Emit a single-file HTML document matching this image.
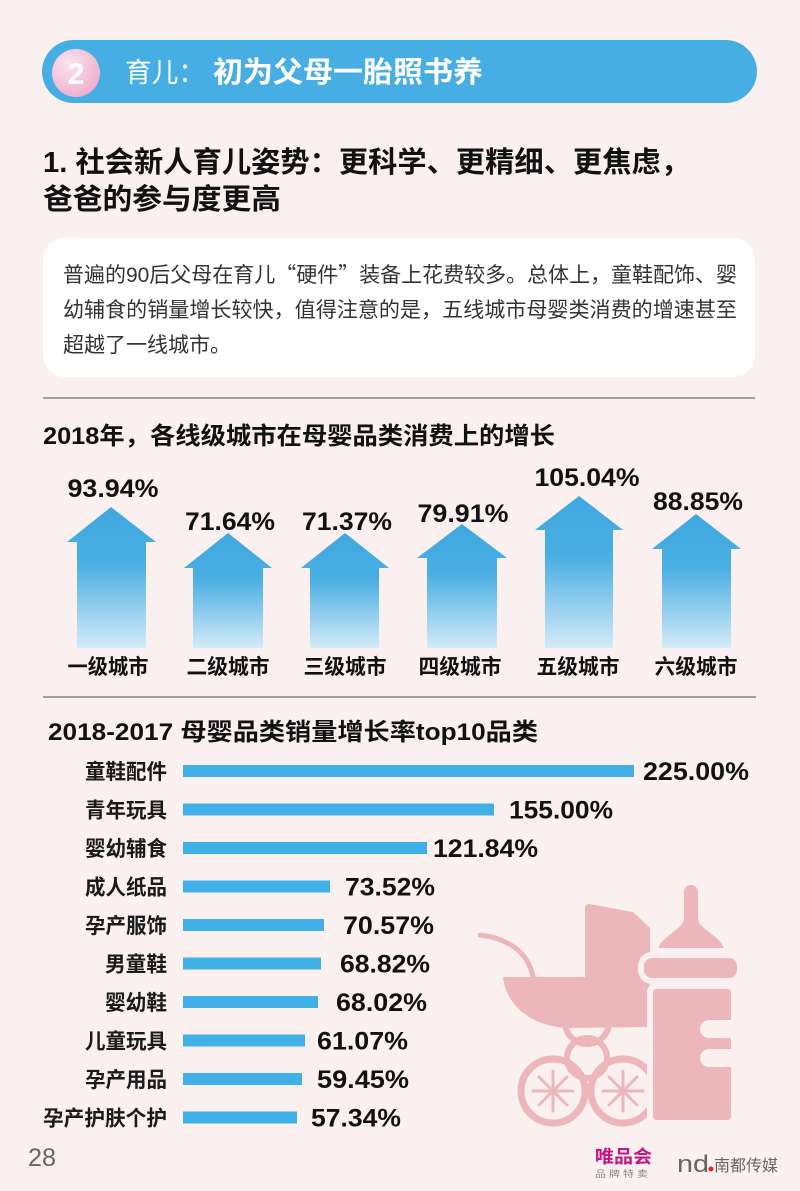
<!DOCTYPE html>
<html>
<head>
<meta charset="utf-8">
<style>
  html,body{margin:0;padding:0;background:#faf0ef;}
  svg{display:block;}
  text{font-family:"Liberation Sans","Noto Sans CJK SC",sans-serif;}
  .cjk{font-family:"Noto Sans CJK SC",sans-serif;}
</style>
</head>
<body>
<svg width="800" height="1191" viewBox="0 0 800 1191" xmlns="http://www.w3.org/2000/svg">
  <defs>
    <linearGradient id="ag" x1="0" y1="0" x2="0" y2="1">
      <stop offset="0" stop-color="#3fa8df"/>
      <stop offset="0.4" stop-color="#4aafe3"/>
      <stop offset="1" stop-color="#d3eaf7"/>
    </linearGradient>
    <radialGradient id="cg" cx="0.35" cy="0.3" r="0.75">
      <stop offset="0" stop-color="#fbe3ef"/>
      <stop offset="1" stop-color="#eeaecd"/>
    </radialGradient>
  </defs>
  <rect x="0" y="0" width="800" height="1191" fill="#faf0ef"/>

  <!-- Header pill -->
  <rect x="42" y="40" width="715" height="63" rx="31.5" fill="#46aee3"/>
  <circle cx="76" cy="73" r="24" fill="url(#cg)"/>
  <text x="76" y="84" font-size="30" font-weight="700" fill="#ffffff" text-anchor="middle">2</text>
  <text x="125" y="82" font-size="27" font-weight="400" fill="#ffffff" textLength="80" lengthAdjust="spacingAndGlyphs">育儿：</text>
  <text x="213" y="82" font-size="29" font-weight="700" fill="#ffffff" textLength="270" lengthAdjust="spacingAndGlyphs">初为父母一胎照书养</text>

  <!-- Heading -->
  <text x="43" y="172" font-size="29" font-weight="700" fill="#111" textLength="647" lengthAdjust="spacingAndGlyphs">1. 社会新人育儿姿势：更科学、更精细、更焦虑，</text>
  <text x="43" y="209" font-size="29" font-weight="700" fill="#111" textLength="238" lengthAdjust="spacingAndGlyphs">爸爸的参与度更高</text>

  <!-- Text box -->
  <rect x="43" y="238" width="712" height="139" rx="22" fill="#ffffff"/>
  <text x="63" y="282" font-size="21" fill="#333" textLength="674" lengthAdjust="spacingAndGlyphs">普遍的90后父母在育儿<tspan class="cjk">“</tspan>硬件<tspan class="cjk">”</tspan>装备上花费较多。总体上，童鞋配饰、婴</text>
  <text x="63" y="317" font-size="21" fill="#333" textLength="674" lengthAdjust="spacingAndGlyphs">幼辅食的销量增长较快，值得注意的是，五线城市母婴类消费的增速甚至</text>
  <text x="63" y="352" font-size="21" fill="#333" textLength="168" lengthAdjust="spacingAndGlyphs">超越了一线城市。</text>

  <!-- Divider 1 -->
  <line x1="43" y1="398" x2="755" y2="398" stroke="#a99c9b" stroke-width="2"/>

  <!-- Section title 1 -->
  <text x="43" y="444" font-size="24" font-weight="700" fill="#111" textLength="512" lengthAdjust="spacingAndGlyphs">2018年，各线级城市在母婴品类消费上的增长</text>

  <!-- Arrows -->
  <polygon points="111,507 156,542 146,542 146,648 77,648 77,542 67,542" fill="url(#ag)"/>
  <polygon points="228,533 272,568 263,568 263,648 193,648 193,568 184,568" fill="url(#ag)"/>
  <polygon points="345,533 389,568 379,568 379,648 310,648 310,568 301,568" fill="url(#ag)"/>
  <polygon points="462,524 507,558 497,558 497,648 427,648 427,558 417,558" fill="url(#ag)"/>
  <polygon points="579,496 623,530 613,530 613,648 545,648 545,530 535,530" fill="url(#ag)"/>
  <polygon points="696,514 741,549 731,549 731,648 662,648 662,549 652,549" fill="url(#ag)"/>

  <g font-size="25" font-weight="700" fill="#111" text-anchor="middle">
    <text x="113" y="497" textLength="91" lengthAdjust="spacingAndGlyphs">93.94%</text>
    <text x="230" y="530" textLength="90" lengthAdjust="spacingAndGlyphs">71.64%</text>
    <text x="347" y="530" textLength="90" lengthAdjust="spacingAndGlyphs">71.37%</text>
    <text x="463" y="522" textLength="91" lengthAdjust="spacingAndGlyphs">79.91%</text>
    <text x="587" y="486" textLength="105" lengthAdjust="spacingAndGlyphs">105.04%</text>
    <text x="698" y="510" textLength="90" lengthAdjust="spacingAndGlyphs">88.85%</text>
  </g>
  <g font-size="21" font-weight="700" fill="#111" text-anchor="middle">
    <text x="108" y="674" textLength="81" lengthAdjust="spacingAndGlyphs">一级城市</text>
    <text x="228" y="674" textLength="83" lengthAdjust="spacingAndGlyphs">二级城市</text>
    <text x="345" y="674" textLength="83" lengthAdjust="spacingAndGlyphs">三级城市</text>
    <text x="460" y="674" textLength="83" lengthAdjust="spacingAndGlyphs">四级城市</text>
    <text x="578" y="674" textLength="83" lengthAdjust="spacingAndGlyphs">五级城市</text>
    <text x="696" y="674" textLength="83" lengthAdjust="spacingAndGlyphs">六级城市</text>
  </g>

  <!-- Divider 2 -->
  <line x1="43" y1="697" x2="756" y2="697" stroke="#a99c9b" stroke-width="2"/>

  <!-- Section title 2 -->
  <text x="48" y="740" font-size="24" font-weight="700" fill="#111" textLength="490" lengthAdjust="spacingAndGlyphs">2018-2017 母婴品类销量增长率top10品类</text>

  <!-- Illustration: stroller -->
  <g fill="#ecb6ba" stroke="none">
    <path d="M480,935 C505,938 528,950 533,977" fill="none" stroke="#ecb6ba" stroke-width="5" stroke-linecap="round"/>
    <circle cx="587" cy="1022" r="22" fill="none" stroke="#ecb6ba" stroke-width="6"/>
    <circle cx="587" cy="1058" r="20" fill="none" stroke="#ecb6ba" stroke-width="6"/>
    <path d="M503,977 L650,977 L650,1027 L565,1028 C530,1025 506,1005 503,977 Z"/>
    <path d="M585,977 L585,908 Q585,904 589,904 L633,912 L650,928 L650,977 Z"/>
    <circle cx="553" cy="1091" r="32" fill="none" stroke="#ecb6ba" stroke-width="7"/>
    <circle cx="623" cy="1091" r="32" fill="none" stroke="#ecb6ba" stroke-width="7"/>
    <g stroke="#ecb6ba" stroke-width="3" stroke-linecap="round">
      <line x1="553" y1="1071" x2="553" y2="1111"/>
      <line x1="533" y1="1091" x2="573" y2="1091"/>
      <line x1="539" y1="1077" x2="567" y2="1105"/>
      <line x1="539" y1="1105" x2="567" y2="1077"/>
      <line x1="623" y1="1071" x2="623" y2="1111"/>
      <line x1="603" y1="1091" x2="643" y2="1091"/>
      <line x1="609" y1="1077" x2="637" y2="1105"/>
      <line x1="609" y1="1105" x2="637" y2="1077"/>
    </g>
    <circle cx="553" cy="1091" r="4"/>
    <circle cx="623" cy="1091" r="4"/>
  </g>
  <!-- Illustration: bottle -->
  <g fill="#ecb6ba" stroke="#faf0ef" stroke-width="6">
    <path d="M681,918 L681,892 A10,10 0 0 1 701,892 L701,918 C701,928 727,935 727,951 L655,951 C655,935 681,928 681,918 Z"/>
    <rect x="641" y="955" width="99" height="26" rx="11"/>
    <rect x="650" y="986" width="84" height="137" rx="6"/>
  </g>
  <rect x="700" y="1020" width="45" height="18" rx="9" fill="#faf0ef"/>
  <rect x="700" y="1049" width="45" height="18" rx="9" fill="#faf0ef"/>

  <!-- Bars -->
  <g fill="#42b0e8">
    <rect x="183" y="765" width="451" height="12"/>
    <rect x="183" y="803.5" width="311" height="12"/>
    <rect x="183" y="842" width="244" height="12"/>
    <rect x="183" y="880.5" width="147" height="12"/>
    <rect x="183" y="919" width="141" height="12"/>
    <rect x="183" y="957.5" width="138" height="12"/>
    <rect x="183" y="996" width="135" height="12"/>
    <rect x="183" y="1034.5" width="122" height="12"/>
    <rect x="183" y="1073" width="119" height="12"/>
    <rect x="183" y="1111.5" width="114" height="12"/>
  </g>
  <g font-size="21" font-weight="700" fill="#1a1a1a" text-anchor="end">
    <text x="167" y="779" textLength="82" lengthAdjust="spacingAndGlyphs">童鞋配件</text>
    <text x="167" y="817.5" textLength="82" lengthAdjust="spacingAndGlyphs">青年玩具</text>
    <text x="167" y="856" textLength="82" lengthAdjust="spacingAndGlyphs">婴幼辅食</text>
    <text x="167" y="894.5" textLength="82" lengthAdjust="spacingAndGlyphs">成人纸品</text>
    <text x="167" y="933" textLength="82" lengthAdjust="spacingAndGlyphs">孕产服饰</text>
    <text x="167" y="971.5" textLength="62" lengthAdjust="spacingAndGlyphs">男童鞋</text>
    <text x="167" y="1010" textLength="62" lengthAdjust="spacingAndGlyphs">婴幼鞋</text>
    <text x="167" y="1048.5" textLength="82" lengthAdjust="spacingAndGlyphs">儿童玩具</text>
    <text x="167" y="1087" textLength="82" lengthAdjust="spacingAndGlyphs">孕产用品</text>
    <text x="167" y="1125.5" textLength="124" lengthAdjust="spacingAndGlyphs">孕产护肤个护</text>
  </g>
  <g font-size="25" font-weight="700" fill="#111">
    <text x="643" y="780" textLength="106" lengthAdjust="spacingAndGlyphs">225.00%</text>
    <text x="509" y="818.5" textLength="104" lengthAdjust="spacingAndGlyphs">155.00%</text>
    <text x="433" y="857" textLength="105" lengthAdjust="spacingAndGlyphs">121.84%</text>
    <text x="345" y="895.5" textLength="90" lengthAdjust="spacingAndGlyphs">73.52%</text>
    <text x="343" y="934" textLength="91" lengthAdjust="spacingAndGlyphs">70.57%</text>
    <text x="340" y="972.5" textLength="90" lengthAdjust="spacingAndGlyphs">68.82%</text>
    <text x="336" y="1011" textLength="91" lengthAdjust="spacingAndGlyphs">68.02%</text>
    <text x="317" y="1049.5" textLength="91" lengthAdjust="spacingAndGlyphs">61.07%</text>
    <text x="317" y="1088" textLength="92" lengthAdjust="spacingAndGlyphs">59.45%</text>
    <text x="311" y="1126.5" textLength="90" lengthAdjust="spacingAndGlyphs">57.34%</text>
  </g>

  <!-- Footer -->
  <text x="28" y="1166" font-size="25" fill="#666" textLength="28" lengthAdjust="spacingAndGlyphs">28</text>
  <text x="595" y="1163" font-size="18" font-weight="700" fill="#c2187f" textLength="57" lengthAdjust="spacingAndGlyphs">唯品会</text>
  <text x="595" y="1177" font-size="9" fill="#888" textLength="53" lengthAdjust="spacingAndGlyphs">品 牌 特 卖</text>
  <text x="677" y="1172" font-size="24" fill="#666" textLength="32" lengthAdjust="spacingAndGlyphs">nd</text>
  <circle cx="711" cy="1169" r="2.5" fill="#d9262b"/>
  <text x="714" y="1171" font-size="16" fill="#666" textLength="64" lengthAdjust="spacingAndGlyphs">南都传媒</text>
</svg>
</body>
</html>
